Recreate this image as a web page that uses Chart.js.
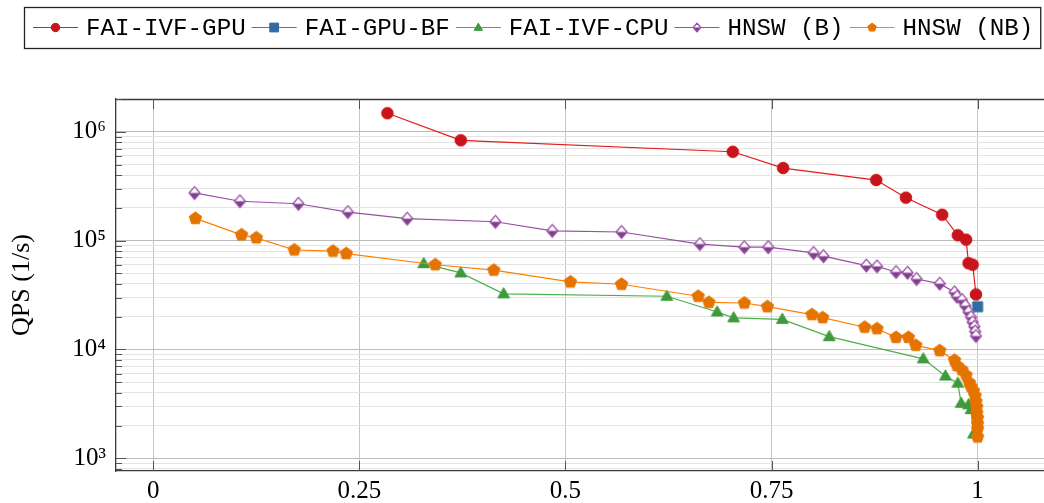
<!DOCTYPE html>
<html>
<head>
<meta charset="utf-8">
<script src="https://cdn.jsdelivr.net/npm/chart.js@4.4.0/dist/chart.umd.min.js"></script>
<style>
html,body{margin:0;padding:0;background:#fff;overflow:hidden}
#wrap{width:1044px;height:503px;position:relative;overflow:hidden}
</style>
</head>
<body>
<div id="wrap"><canvas id="c" style="width:1052px;height:503px"></canvas></div>
<script>
// ---------------- data ----------------
const seriesNames = ['FAI-IVF-GPU', 'FAI-GPU-BF', 'FAI-IVF-CPU', 'HNSW (B)', 'HNSW (NB)'];

const faiIvfGpuRecall = [0.284, 0.373, 0.703, 0.764, 0.877, 0.913, 0.957, 0.976, 0.986, 0.989, 0.994, 0.998];
const faiIvfGpuQps    = [1.48e6, 8.35e5, 6.55e5, 4.64e5, 3.60e5, 2.48e5, 1.73e5, 1.12e5, 1.02e5, 6.2e4, 6.0e4, 3.2e4];

const faiGpuBfRecall = [1.0];
const faiGpuBfQps    = [2.47e4];

const faiIvfCpuRecall = [0.328, 0.373, 0.425, 0.623, 0.684, 0.704, 0.763, 0.820, 0.934, 0.961, 0.976, 0.980, 0.989, 0.992, 0.995];
const faiIvfCpuQps    = [6.14e4, 5.05e4, 3.24e4, 3.08e4, 2.21e4, 1.95e4, 1.89e4, 1.31e4, 8.2e3, 5.7e3, 4.9e3, 3.2e3, 3.1e3, 2.8e3, 1.67e3];

const hnswBRecall = [0.050, 0.105, 0.176, 0.236, 0.308, 0.415, 0.484, 0.568, 0.663, 0.717, 0.746, 0.801, 0.813, 0.865, 0.878,
                     0.901, 0.915, 0.926, 0.954, 0.972, 0.975, 0.981, 0.985, 0.989, 0.992, 0.994, 0.996, 0.997, 0.998];
const hnswBQps    = [2.74e5, 2.30e5, 2.18e5, 1.83e5, 1.59e5, 1.49e5, 1.23e5, 1.20e5, 9.3e4, 8.7e4, 8.7e4, 7.7e4, 7.2e4, 5.9e4, 5.8e4,
                     5.15e4, 5.07e4, 4.44e4, 4.02e4, 3.35e4, 3.05e4, 2.85e4, 2.52e4, 2.21e4, 1.98e4, 1.78e4, 1.62e4, 1.46e4, 1.33e4];

const hnswNbRecall = [0.051, 0.107, 0.125, 0.171, 0.218, 0.234, 0.342, 0.413, 0.506, 0.568, 0.661, 0.674, 0.717, 0.745, 0.799,
                      0.812, 0.863, 0.878, 0.901, 0.916, 0.925, 0.954, 0.972, 0.975, 0.981, 0.986, 0.990, 0.992, 0.995, 0.997,
                      0.998, 0.999, 0.999, 1.0, 1.0, 1.0, 1.0];
const hnswNbQps    = [1.60e5, 1.13e5, 1.06e5, 8.2e4, 8.0e4, 7.6e4, 6.0e4, 5.35e4, 4.17e4, 3.97e4, 3.08e4, 2.71e4, 2.67e4, 2.47e4, 2.09e4,
                      1.96e4, 1.60e4, 1.55e4, 1.29e4, 1.29e4, 1.09e4, 9.75e3, 7.96e3, 7.1e3, 6.5e3, 5.8e3, 4.95e3, 4.56e3, 4.16e3, 3.74e3,
                      3.32e3, 2.96e3, 2.61e3, 2.35e3, 2.07e3, 1.86e3, 1.57e3];

const xTickValues = [0, 0.25, 0.5, 0.75, 1];
const xTickLabels = ['0', '0.25', '0.5', '0.75', '1'];
const yDecades    = [1e3, 1e4, 1e5, 1e6];
const yTickLabels = ['10³', '10⁴', '10⁵', '10⁶'];
const yAxisTitle  = 'QPS (1/s)';

// ---------------- styles ----------------
const X_MIN = -0.0453, X_MAX = 1.0809;
const Y_MIN = 764, Y_MAX = 2.0e6;

const lineColors   = ['#e41a1c', '#377eb8', '#4daf4a', '#984ea3', '#ff7f00'];
const markerFills  = ['#c8141b', '#2f6ca3', '#3e9a3b', '#7f3f8c', '#e57300'];
const markerKinds  = ['circle', 'square', 'triangle', 'halfdiamond', 'pentagon'];
const markerSizes  = [5.8, 5.0, 6.2, 6.4, 6.5];

function drawMarker(ctx, kind, x, y, r, fill, stroke) {
  ctx.save();
  ctx.fillStyle = fill;
  ctx.strokeStyle = stroke;
  ctx.lineWidth = 1;
  ctx.lineJoin = 'round';
  ctx.beginPath();
  if (kind === 'circle') {
    ctx.arc(x, y, r, 0, Math.PI * 2);
    ctx.fill(); ctx.stroke();
  } else if (kind === 'square') {
    ctx.rect(x - r, y - r, 2 * r, 2 * r);
    ctx.fill(); ctx.stroke();
  } else if (kind === 'triangle') {
    const h = r * 0.87;
    ctx.moveTo(x, y - r);
    ctx.lineTo(x + r * 0.95, y + h * 0.75);
    ctx.lineTo(x - r * 0.95, y + h * 0.75);
    ctx.closePath();
    ctx.fill(); ctx.stroke();
  } else if (kind === 'pentagon') {
    for (let i = 0; i < 5; i++) {
      const a = -Math.PI / 2 + i * 2 * Math.PI / 5;
      const px = x + r * Math.cos(a), py = y + r * Math.sin(a);
      if (i === 0) ctx.moveTo(px, py); else ctx.lineTo(px, py);
    }
    ctx.closePath();
    ctx.fill(); ctx.stroke();
  } else if (kind === 'halfdiamond') {
    const w = r * 0.85, h = r;
    ctx.moveTo(x, y - h); ctx.lineTo(x + w, y); ctx.lineTo(x, y + h); ctx.lineTo(x - w, y); ctx.closePath();
    ctx.fillStyle = '#ffffff';
    ctx.fill();
    ctx.beginPath();
    ctx.moveTo(x - w, y); ctx.lineTo(x + w, y); ctx.lineTo(x, y + h); ctx.closePath();
    ctx.fillStyle = fill;
    ctx.fill();
    ctx.beginPath();
    ctx.moveTo(x, y - h); ctx.lineTo(x + w, y); ctx.lineTo(x, y + h); ctx.lineTo(x - w, y); ctx.closePath();
    ctx.lineWidth = 1.3;
    ctx.stroke();
  }
  ctx.restore();
}

function makeMarkerImage(kind, r, fill, stroke) {
  const size = Math.ceil(2 * r + 4);
  const cv = document.createElement('canvas');
  cv.width = size; cv.height = size;
  const c = cv.getContext('2d');
  drawMarker(c, kind, size / 2, size / 2, r, fill, stroke);
  return cv;
}

function toPoints(xs, ys) { return xs.map((v, i) => ({ x: v, y: ys[i] })); }

const seriesData = [
  toPoints(faiIvfGpuRecall, faiIvfGpuQps),
  toPoints(faiGpuBfRecall, faiGpuBfQps),
  toPoints(faiIvfCpuRecall, faiIvfCpuQps),
  toPoints(hnswBRecall, hnswBQps),
  toPoints(hnswNbRecall, hnswNbQps)
];

const datasets = seriesNames.map((name, i) => ({
  label: name,
  data: seriesData[i],
  borderColor: lineColors[i],
  backgroundColor: markerFills[i],
  borderWidth: 1.2,
  tension: 0,
  pointStyle: makeMarkerImage(markerKinds[i], markerSizes[i], markerFills[i], markerKinds[i] === 'halfdiamond' ? lineColors[i] : markerFills[i]),
  pointRadius: markerSizes[i],
  order: seriesNames.length - i,
  markerKind: markerKinds[i],
  markerFill: markerFills[i],
  clip: false
}));

function isDecade(v) {
  const l = Math.log10(v);
  return Math.abs(l - Math.round(l)) < 1e-9;
}

const yGridValues = [];
yDecades.concat([1e2]).sort((a, b) => a - b).forEach(d => {
  for (let k = 1; k <= 9; k++) {
    const v = d * k;
    if (v >= Y_MIN && v <= Y_MAX) yGridValues.push(v);
  }
});

// ---------------- plugins ----------------
const axisDecor = {
  id: 'axisDecor',
  beforeDatasetsDraw(chart) {
    const { ctx, chartArea: { left, right, top, bottom }, scales: { x, y } } = chart;
    ctx.save();
    ctx.strokeStyle = '#3a3a3a';
    ctx.lineWidth = 1.3;
    ctx.beginPath();
    ctx.moveTo(left, top + 0.5); ctx.lineTo(right, top + 0.5);
    ctx.stroke();
    ctx.lineWidth = 1;
    ctx.strokeStyle = '#555';
    ctx.beginPath();
    x.ticks.forEach(t => {
      const px = Math.round(x.getPixelForValue(t.value)) + 0.5;
      ctx.moveTo(px, bottom); ctx.lineTo(px, bottom - 10);
      ctx.moveTo(px, top); ctx.lineTo(px, top + 10);
    });
    y.ticks.forEach(t => {
      const py = Math.round(y.getPixelForValue(t.value)) + 0.5;
      const len = isDecade(t.value) ? 10 : 6;
      ctx.moveTo(left, py); ctx.lineTo(left + len, py);
    });
    ctx.stroke();
    ctx.restore();
  }
};

const boxLegend = {
  id: 'boxLegend',
  afterDraw(chart) {
    const ctx = chart.ctx;
    ctx.save();
    ctx.font = '24.2px "Liberation Mono"';
    ctx.textBaseline = 'middle';
    const boxL = 24, boxT = 7, boxB = 48;
    const cy = 27.5;
    let x = boxL + 9;
    chart.data.datasets.forEach(ds => {
      ctx.strokeStyle = ds.borderColor;
      ctx.lineWidth = 1.2;
      ctx.beginPath(); ctx.moveTo(x, cy); ctx.lineTo(x + 45, cy); ctx.stroke();
      drawMarker(ctx, ds.markerKind, x + 22.5, cy, ds.markerKind === 'circle' ? 4.2 : 4.4, ds.markerFill,
                 ds.markerKind === 'halfdiamond' ? ds.borderColor : ds.markerFill);
      x += 45 + 8;
      ctx.fillStyle = '#000';
      ctx.fillText(ds.label, x, cy + 1);
      x += ctx.measureText(ds.label).width + 6;
    });
    const boxR = Math.min(x + 1, 1042);
    ctx.strokeStyle = '#222';
    ctx.lineWidth = 1.3;
    ctx.strokeRect(boxL + 0.5, boxT + 0.5, boxR - boxL, boxB - boxT);
    ctx.restore();
  }
};

// ---------------- chart ----------------
Chart.defaults.font.family = '"Liberation Serif", serif';
Chart.defaults.color = '#000';

new Chart(document.getElementById('c'), {
  type: 'line',
  data: { datasets },
  options: {
    responsive: false,
    animation: false,
    events: [],
    layout: { padding: { top: 99, right: 0, left: 0, bottom: 0 } },
    plugins: { legend: { display: false }, tooltip: { enabled: false } },
    scales: {
      x: {
        type: 'linear',
        min: X_MIN, max: X_MAX,
        afterBuildTicks: s => { s.ticks = xTickValues.map(v => ({ value: v })); },
        afterFit: s => { s.height = 32; },
        ticks: {
          autoSkip: false, maxRotation: 0, padding: 5,
          font: { size: 25, family: '"Liberation Serif", serif' },
          color: '#000',
          callback: (v) => { const i = xTickValues.indexOf(v); return i >= 0 ? xTickLabels[i] : ''; }
        },
        grid: { color: '#c6c6c6', lineWidth: 1, drawTicks: false },
        border: { display: true, color: '#3a3a3a', width: 1.3 }
      },
      y: {
        type: 'logarithmic',
        min: Y_MIN, max: Y_MAX,
        afterBuildTicks: s => { s.ticks = yGridValues.map(v => ({ value: v, major: isDecade(v) })); },
        afterFit: s => { s.width = 116; },
        ticks: {
          autoSkip: false, padding: 10,
          font: { size: 25, family: '"Liberation Serif", serif' },
          color: '#000',
          callback: (v) => { const i = yDecades.indexOf(v); return i >= 0 ? yTickLabels[i] : ''; }
        },
        grid: {
          drawTicks: false,
          lineWidth: 1,
          color: ctx => (ctx.tick && isDecade(ctx.tick.value)) ? '#bcbcbc' : '#e3e3e3'
        },
        border: { display: true, color: '#3a3a3a', width: 1.3 },
        title: {
          display: true, text: yAxisTitle,
          font: { size: 26, family: '"Liberation Serif", serif' },
          color: '#000',
          padding: { top: 7, bottom: 0 }
        }
      }
    }
  },
  plugins: [axisDecor, boxLegend]
});
</script>
</body>
</html>
